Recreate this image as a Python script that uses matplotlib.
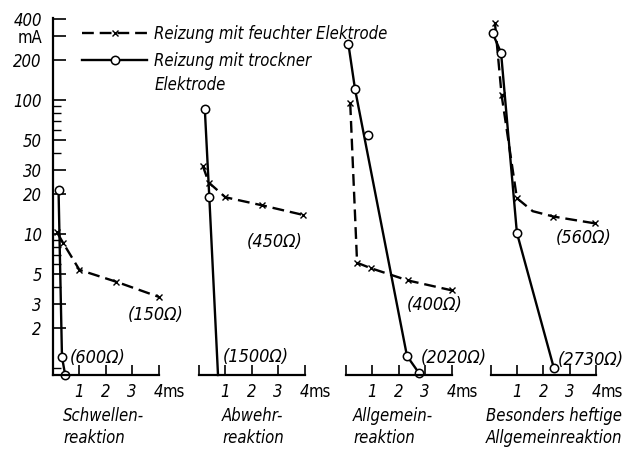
import matplotlib.pyplot as plt
from matplotlib.ticker import FixedLocator, NullFormatter

plt.rcParams['font.family'] = ['DejaVu Sans']
plt.rcParams['font.stretch'] = 'condensed'
plt.rcParams['font.size'] = 11

# reaction types (one panel each)
panel_titles = ["Schwellen-\nreaktion", "Abwehr-\nreaktion",
                "Allgemein-\nreaktion", "Besonders heftige\nAllgemeinreaktion"]

# wet electrode (dashed, x markers): time in ms, current in mA
wet_t = [[0.15, 0.38, 1.0, 2.4, 4.0],
         [0.14, 0.37, 1.0, 2.37, 3.93],
         [0.16, 0.42, 0.95, 2.35, 4.0],
         [0.17, 0.42, 1.0, 1.6, 2.38, 3.96]]
wet_i = [[10.3, 8.6, 5.4, 4.4, 3.4],
         [32.4, 24.2, 18.8, 16.4, 13.9],
         [94.5, 6.1, 5.55, 4.5, 3.8],
         [373, 109, 18.5, 14.8, 13.5, 12.0]]
wet_marked = [[0, 1, 2, 3, 4], [0, 1, 2, 3, 4], [0, 1, 2, 3, 4], [0, 1, 2, 4, 5]]
wet_ohm = ["(150Ω)", "(450Ω)", "(400Ω)", "(560Ω)"]
wet_lbl_pos = [(3.88, 2.49), (2.85, 8.7), (3.35, 2.95), (3.54, 9.3)]

# dry electrode (solid, circle markers)
dry_t = [[0.21, 0.34, 0.46],
         [0.22, 0.39, 0.72],
         [0.09, 0.34, 2.31, 2.76],
         [0.08, 0.4, 1.0, 2.4]]
dry_i = [[21.3, 1.21, 0.89],
         [85.7, 18.9, 0.887],
         [262, 121, 1.23, 0.92],
         [315, 225, 10.2, 1.0]]
dry_marked = [[0, 1, 2], [0, 1], [0, 1, 2, 3], [0, 1, 2, 3]]
# single measured point off the line in panel 3
dry_extra_t = [None, None, 0.85, None]
dry_extra_i = [None, None, 54.8, None]
dry_ohm = ["(600Ω)", "(1500Ω)", "(2020Ω)", "(2730Ω)"]
dry_lbl_pos = [(1.71, 1.19), (2.17, 1.2), (4.1, 1.19), (3.8, 1.15)]

y_major = [2, 3, 5, 10, 20, 30, 50, 100, 200, 300, 400]
y_labels = ["2", "3", "5", "10", "20", "30", "50", "100", "200", "mA", "400"]
y_minor = [1, 4, 6, 7, 8, 9, 40, 60, 70, 80, 90]

# left edge of each title block, as fraction of the panel width
title_x = [0.095, 0.218, 0.066, -0.043]

fig = plt.figure(figsize=(6.36, 4.53), dpi=100)
lefts = [53, 199, 346, 490.5]
W, H = 636, 453
ax_w = 105.6 / W
ax_b = 78 / H
ax_h = 357 / H

dash = (0, (5, 2.5))
for k in range(4):
    ax = fig.add_axes([lefts[k] / W, ax_b, ax_w, ax_h])
    ax.set_yscale('log')
    ax.set_ylim(0.887, 409)
    ax.set_xlim(0, 4)
    for s in ['top', 'right']:
        ax.spines[s].set_visible(False)
    ax.spines['bottom'].set_linewidth(1.6)
    ax.spines['left'].set_linewidth(1.6)

    wl, = ax.plot(wet_t[k], wet_i[k], color='k', lw=1.7, ls=dash,
                  marker='x', ms=5, mew=1.0, markevery=wet_marked[k],
                  clip_on=False, label='Reizung mit feuchter Elektrode')
    dl, = ax.plot(dry_t[k], dry_i[k], color='k', lw=1.7, marker='o', ms=6,
                  mfc='white', mew=1.1, markevery=dry_marked[k],
                  clip_on=False, label='Reizung mit trockner')
    if dry_extra_t[k] is not None:
        ax.plot([dry_extra_t[k]], [dry_extra_i[k]], ls='none', marker='o',
                ms=6, mfc='white', mec='k', mew=1.1)

    ax.text(*wet_lbl_pos[k], wet_ohm[k], ha='center', va='center',
            style='italic', fontsize=13)
    ax.text(*dry_lbl_pos[k], dry_ohm[k], ha='center', va='center',
            style='italic', fontsize=13)

    ax.set_xticks([0, 1, 2, 3, 4])
    ax.set_xticklabels(['', '1', '2', '3', '4'], style='italic')
    ax.tick_params(axis='x', direction='in', length=7, width=1.2, pad=6,
                   labelsize=12)
    ax.annotate('ms', xy=(4, 0), xycoords=('data', 'axes fraction'),
                xytext=(3, -6), textcoords='offset points', ha='left',
                va='top', fontsize=12)

    if k == 0:
        ax.yaxis.set_major_locator(FixedLocator(y_major))
        ax.yaxis.set_minor_locator(FixedLocator(y_minor))
        ax.yaxis.set_minor_formatter(NullFormatter())
        ax.set_yticklabels(y_labels)
        for lab in ax.get_yticklabels():
            if lab.get_text() != 'mA':
                lab.set_style('italic')
        ax.tick_params(axis='y', which='major', direction='in', length=9,
                       width=1.2, pad=8, labelsize=12)
        ax.tick_params(axis='y', which='minor', direction='in', length=6,
                       width=1.0)
        handles = [wl, dl]
    else:
        ax.spines['left'].set_visible(False)
        ax.set_yticks([])
        ax.set_yticks([], minor=True)

    ax.text(title_x[k], -0.09, panel_titles[k], transform=ax.transAxes,
            ha='left', va='top', style='italic', fontsize=12,
            linespacing=1.3, multialignment='left')

fig.legend(handles=handles, loc='upper left',
           bbox_to_anchor=(82 / W, 1 - 25 / H), frameon=False,
           handlelength=3.9, handletextpad=0.45, labelspacing=0.55,
           borderpad=0, borderaxespad=0, prop={'style': 'italic', 'size': 12})
fig.text(155 / W, 1 - 85 / H, 'Elektrode', ha='left', va='center',
         style='italic', fontsize=12)

fig.savefig('out.png', dpi=100)
